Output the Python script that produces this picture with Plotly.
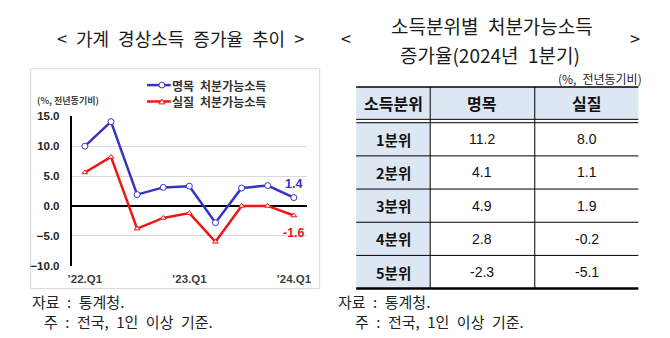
import plotly.graph_objects as go

# ---------------- data ----------------
quarters = ["22.Q1", "22.Q2", "22.Q3", "22.Q4", "23.Q1", "23.Q2", "23.Q3", "23.Q4", "24.Q1"]
nominal = [10.0, 14.1, 1.9, 3.1, 3.3, -2.8, 3.0, 3.4, 1.4]
real = [5.6, 8.2, -3.8, -2.0, -1.2, -6.0, 0.0, 0.0, -1.6]
x_tickvals = ["22.Q1", "23.Q1", "24.Q1"]
x_ticktext = ["’22.Q1", "’23.Q1", "’24.Q1"]
series_names = ["명목 처분가능소득", "실질 처분가능소득"]

tbl_headers = ["소득분위", "명목", "실질"]
quintiles = ["1분위", "2분위", "3분위", "4분위", "5분위"]
tbl_nominal = [11.2, 4.1, 4.9, 2.8, -2.3]
tbl_real = [8.0, 1.1, 1.9, -0.2, -5.1]

# ---------------- helpers ----------------
W, H = 670, 338
KR = "Noto Sans CJK KR, sans-serif"
LAT = "Liberation Sans, Arial, sans-serif"
BLUE = "#3434c2"
RED = "#f01414"
SP = "\u2002"  # wider word space


def X(px):
    return px / W


def Y(py):
    return 1 - py / H


fig = go.Figure()

fig.add_trace(go.Scatter(
    x=quarters, y=nominal, mode="lines+markers", name=series_names[0],
    line=dict(color=BLUE, width=2.5),
    marker=dict(symbol="circle", size=6, color="white", line=dict(color=BLUE, width=1)),
    showlegend=False, cliponaxis=False))
fig.add_trace(go.Scatter(
    x=quarters, y=real, mode="lines+markers", name=series_names[1],
    line=dict(color=RED, width=2.5),
    marker=dict(symbol="triangle-up", size=5, color="white", line=dict(color=RED, width=1)),
    showlegend=False, cliponaxis=False))

shapes = []
ann = []

# chart frame
shapes.append(dict(type="rect", xref="paper", yref="paper", x0=X(27), x1=X(320), y0=Y(293), y1=Y(65),
                   line=dict(color="#d9d9d9", width=1), layer="below"))

# legend (manual)
leg_y = [82, 99]
leg_col = [BLUE, RED]
for i in range(2):
    shapes.append(dict(type="line", xref="paper", yref="paper", x0=X(145), x1=X(169),
                       y0=Y(leg_y[i]), y1=Y(leg_y[i]), line=dict(color=leg_col[i], width=2.5)))
    ann.append(dict(x=X(168), y=Y(leg_y[i]), xref="paper", yref="paper", xanchor="left", yanchor="middle",
                    text=series_names[i].replace(" ", SP), showarrow=False,
                    font=dict(family=KR, size=12, color="#333333", weight="bold")))
shapes.append(dict(type="circle", xref="paper", yref="paper", x0=X(157), x1=X(163),
                   y0=Y(leg_y[0] + 3), y1=Y(leg_y[0] - 3), fillcolor="white",
                   line=dict(color=BLUE, width=1)))
shapes.append(dict(type="path", xref="paper", yref="paper",
                   path=f"M{X(157)},{Y(leg_y[1]+2.5)} L{X(163)},{Y(leg_y[1]+2.5)} L{X(160)},{Y(leg_y[1]-2.5)} Z",
                   fillcolor="white", line=dict(color=RED, width=1)))

ann.append(dict(x=X(31), y=Y(98), xref="paper", yref="paper", xanchor="left", yanchor="middle",
                text="(%, 전년동기비)", showarrow=False,
                font=dict(family=KR, size=9, color="#444444", weight="bold")))

# end labels
ann.append(dict(x=quarters[-1], y=nominal[-1], xref="x", yref="y", yshift=14, text=f"{nominal[-1]:.1f}",
                showarrow=False, font=dict(family=LAT, size=12.5, color=BLUE, weight="bold")))
ann.append(dict(x=quarters[-1], y=real[-1], xref="x", yref="y", yshift=-17, text=f"{real[-1]:.1f}",
                showarrow=False, font=dict(family=LAT, size=12.5, color=RED, weight="bold")))

TITLE_FONT = dict(family=KR, size=18, color="#1a1a1a")
# left title
ann.append(dict(x=X(179), y=Y(33), xref="paper", yref="paper", xanchor="center", yanchor="middle",
                text=SP.join(["&lt;", "가계", "경상소득", "증가율", "추이", "&gt;"]), showarrow=False,
                font=TITLE_FONT))

# right title
ann.append(dict(x=X(495), y=Y(20), xref="paper", yref="paper", xanchor="center", yanchor="middle",
                text=SP.join(["소득분위별", "처분가능소득"]), showarrow=False, font=dict(family=KR, size=19, color="#1a1a1a")))
ann.append(dict(x=X(493), y=Y(50), xref="paper", yref="paper", xanchor="center", yanchor="middle",
                text="증가율(2024년" + SP + "1분기)", showarrow=False, font=dict(family=KR, size=19, color="#1a1a1a")))
ann.append(dict(x=X(347), y=Y(33), xref="paper", yref="paper", xanchor="center", yanchor="middle",
                text="&lt;", showarrow=False, font=dict(family=KR, size=18, color="#1a1a1a")))
ann.append(dict(x=X(640), y=Y(33), xref="paper", yref="paper", xanchor="center", yanchor="middle",
                text="&gt;", showarrow=False, font=dict(family=KR, size=18, color="#1a1a1a")))
ann.append(dict(x=X(649), y=Y(75), xref="paper", yref="paper", xanchor="right", yanchor="middle",
                text="(%," + SP + "전년동기비)", showarrow=False, font=dict(family=KR, size=12, color="#222222")))

# ---------------- table ----------------
T_L, T_R = 357, 643
col_edges = [357, 432, 538, 643]
T_TOP, HDR_B1, HDR_B2 = 84, 117.5, 121
T_BOT = 293
n = len(quintiles)
row_h = (T_BOT - HDR_B2) / n
row_edges = [HDR_B2 + i * row_h for i in range(n + 1)]
FILL = "#dde6f3"

shapes.append(dict(type="rect", xref="paper", yref="paper", x0=X(T_L), x1=X(T_R), y0=Y(HDR_B1), y1=Y(T_TOP),
                   fillcolor=FILL, line=dict(width=0), layer="below"))
shapes.append(dict(type="rect", xref="paper", yref="paper", x0=X(col_edges[0]), x1=X(col_edges[1]),
                   y0=Y(T_BOT), y1=Y(HDR_B2), fillcolor=FILL, line=dict(width=0), layer="below"))


def hline(py, w, color="#000000"):
    shapes.append(dict(type="line", xref="paper", yref="paper", x0=X(T_L), x1=X(T_R), y0=Y(py), y1=Y(py),
                       line=dict(color=color, width=w)))


hline(T_TOP, 1.5)
hline(HDR_B1, 1)
hline(HDR_B2, 1)
for e in row_edges[1:-1]:
    hline(e, 1)
hline(T_BOT, 2.5)
for cx in col_edges[1:-1]:
    shapes.append(dict(type="line", xref="paper", yref="paper", x0=X(cx), x1=X(cx), y0=Y(T_BOT), y1=Y(T_TOP),
                       line=dict(color="#000000", width=1)))

col_c = [(col_edges[i] + col_edges[i + 1]) / 2 for i in range(3)]
for i, h in enumerate(tbl_headers):
    ann.append(dict(x=X(col_c[i]), y=Y((T_TOP + HDR_B1) / 2), xref="paper", yref="paper", xanchor="center",
                    yanchor="middle", text=h, showarrow=False,
                    font=dict(family=KR, size=16, color="#111111", weight="bold")))
for r in range(n):
    cy = Y((row_edges[r] + row_edges[r + 1]) / 2)
    ann.append(dict(x=X(col_c[0]), y=cy, xref="paper", yref="paper", xanchor="center", yanchor="middle",
                    text=quintiles[r], showarrow=False,
                    font=dict(family=KR, size=14.5, color="#111111", weight="bold")))
    ann.append(dict(x=X(col_c[1]), y=cy, xref="paper", yref="paper", xanchor="center", yanchor="middle",
                    text=f"{tbl_nominal[r]:.1f}", showarrow=False, font=dict(family=LAT, size=14, color="#111111")))
    ann.append(dict(x=X(col_c[2]), y=cy, xref="paper", yref="paper", xanchor="center", yanchor="middle",
                    text=f"{tbl_real[r]:.1f}", showarrow=False, font=dict(family=LAT, size=14, color="#111111")))

# footnotes
FN = dict(family=KR, size=15, color="#222222")
for (sx, nx) in [(26, 39), (337, 354)]:
    ann.append(dict(x=X(sx), y=Y(306), xref="paper", yref="paper", xanchor="left", yanchor="middle",
                    text=SP.join(["자료", ":", "통계청."]), showarrow=False, font=FN))
    ann.append(dict(x=X(nx), y=Y(327), xref="paper", yref="paper", xanchor="left", yanchor="middle",
                    text=SP.join(["주", ":", "전국,", "1인", "이상", "기준."]), showarrow=False, font=FN))

fig.update_layout(
    width=W, height=H, margin=dict(l=0, r=0, t=0, b=0),
    paper_bgcolor="white", plot_bgcolor="rgba(0,0,0,0)",
    showlegend=False,
    xaxis=dict(domain=[X(68.75), X(307)], type="category", categoryorder="array", categoryarray=quarters,
               range=[-0.5, len(quarters) - 0.5], tickvals=x_tickvals, ticktext=x_ticktext,
               showgrid=False, showline=False, zeroline=False, ticks="", ticklabelstandoff=5,
               tickfont=dict(family=LAT, size=11.5, color="#404040", weight="bold")),
    yaxis=dict(domain=[Y(269.3), Y(114.3)], range=[-10, 15], dtick=5, tick0=0, tickformat=".1f",
               showgrid=True, gridcolor="#d9d9d9", gridwidth=1,
               zeroline=True, zerolinecolor="#000000", zerolinewidth=1.5,
               showline=True, linecolor="#000000", linewidth=2, ticks="", ticklabelstandoff=8,
               tickfont=dict(family=LAT, size=11.5, color="#262626", weight="bold")),
    shapes=shapes, annotations=ann,
)

fig.write_html("out.html")
